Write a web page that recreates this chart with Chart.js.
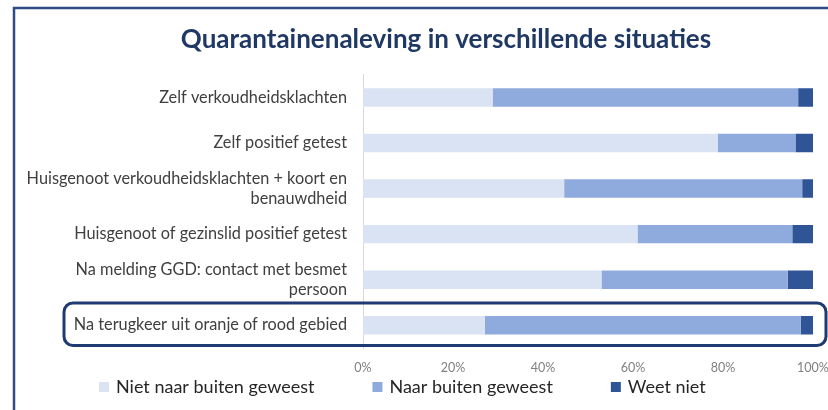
<!DOCTYPE html>
<html>
<head>
<meta charset="utf-8">
<script src="https://cdn.jsdelivr.net/npm/chart.js@4/dist/chart.umd.min.js"></script>
<style>
  html, body { margin:0; padding:0; background:#fff; }
  #wrap { width:828px; height:410px; }
</style>
</head>
<body>
<div id="wrap"><canvas id="c" width="828" height="410"></canvas></div>
<script>
const titel = 'Quarantainenaleving in verschillende situaties';
const situaties = [
  'Zelf verkoudheidsklachten',
  'Zelf positief getest',
  ['Huisgenoot verkoudheidsklachten + koort en', 'benauwdheid'],
  'Huisgenoot of gezinslid positief getest',
  ['Na melding GGD: contact met besmet', 'persoon'],
  'Na terugkeer uit oranje of rood gebied'
];
const nietBuiten = [28.8, 78.8, 44.7, 61.0, 53.0, 27.1];
const welBuiten  = [67.9, 17.3, 52.9, 34.4, 41.4, 70.2];
const weetNiet   = [3.3, 3.9, 2.4, 4.6, 5.6, 2.7];
const reeksNamen = ['Niet naar buiten geweest', 'Naar buiten geweest', 'Weet niet'];
const kleuren = ['#dae3f3', '#8faadc', '#2f5597'];
const xTicks = [0, 20, 40, 60, 80, 100];

const FONT = 'Lato, "Open Sans", sans-serif';

// frame, title, highlighted last row, legend
const decor = {
  id: 'decor',
  beforeDraw(chart){
    const ctx = chart.ctx;
    ctx.save();
    ctx.strokeStyle = '#2e4a87';
    ctx.lineWidth = 2.5;
    ctx.beginPath();
    ctx.moveTo(14, 410);
    ctx.lineTo(14, 8);
    ctx.lineTo(828, 8);
    ctx.stroke();

    ctx.fillStyle = '#1f3864';
    ctx.font = 'bold 26px ' + FONT;
    ctx.textAlign = 'center';
    ctx.textBaseline = 'middle';
    ctx.fillText(titel, 446, 40);
    ctx.restore();
  },
  afterDraw(chart){
    const ctx = chart.ctx;
    const y = chart.scales.y;
    const c = y.getPixelForValue(5);
    const half = (y.getPixelForValue(5) - y.getPixelForValue(4)) / 2;
    ctx.save();
    ctx.strokeStyle = '#1f3a73';
    ctx.lineWidth = 3;
    ctx.beginPath();
    ctx.roundRect(64, c - half + 0.5, 762, 2*half - 3, 9);
    ctx.stroke();
    ctx.restore();

    ctx.save();
    ctx.font = '18px ' + FONT;
    ctx.textBaseline = 'middle';
    const ly = 387;
    let x = 99;
    chart.data.datasets.forEach(ds => {
      ctx.fillStyle = ds.backgroundColor;
      ctx.fillRect(x, ly - 5, 10, 10);
      ctx.fillStyle = '#262626';
      ctx.fillText(ds.label, x + 17, ly);
      x += 17 + ctx.measureText(ds.label).width + 58;
    });
    ctx.restore();
  }
};

new Chart(document.getElementById('c'), {
  type: 'bar',
  data: {
    labels: situaties,
    datasets: [
      { label: reeksNamen[0], data: nietBuiten, backgroundColor: kleuren[0] },
      { label: reeksNamen[1], data: welBuiten,  backgroundColor: kleuren[1] },
      { label: reeksNamen[2], data: weetNiet,   backgroundColor: kleuren[2] }
    ]
  },
  options: {
    indexAxis: 'y',
    responsive: false,
    animation: false,
    layout: { padding: { left: 0, right: 15, top: 74.7, bottom: 32 } },
    datasets: { bar: { barPercentage: 0.81, categoryPercentage: 0.5, borderWidth: 0 } },
    plugins: {
      legend: { display: false },
      tooltip: { enabled: false },
      title: { display: false }
    },
    scales: {
      x: {
        stacked: true,
        min: 0, max: 100,
        afterBuildTicks(s){ s.ticks = xTicks.map(v => ({ value: v })); },
        grid: { display: false, drawTicks: false },
        border: { display: false },
        ticks: {
          color: '#7f7f7f',
          font: { family: FONT, size: 12.5 },
          padding: 12,
          callback: v => v + '%'
        },
        afterFit(s){ s.height = 30; s.paddingLeft = 0; s.paddingRight = 0; }
      },
      y: {
        stacked: true,
        grid: { display: false, drawTicks: false },
        border: { display: true, color: '#d9d9d9', width: 1 },
        ticks: {
          color: '#404040',
          font: { family: FONT, size: 16.3, lineHeight: 1.2 },
          padding: 16
        },
        afterFit(s){ s.width = 363; s.paddingTop = 0; s.paddingBottom = 0; }
      }
    }
  },
  plugins: [decor]
});
</script>
</body>
</html>
